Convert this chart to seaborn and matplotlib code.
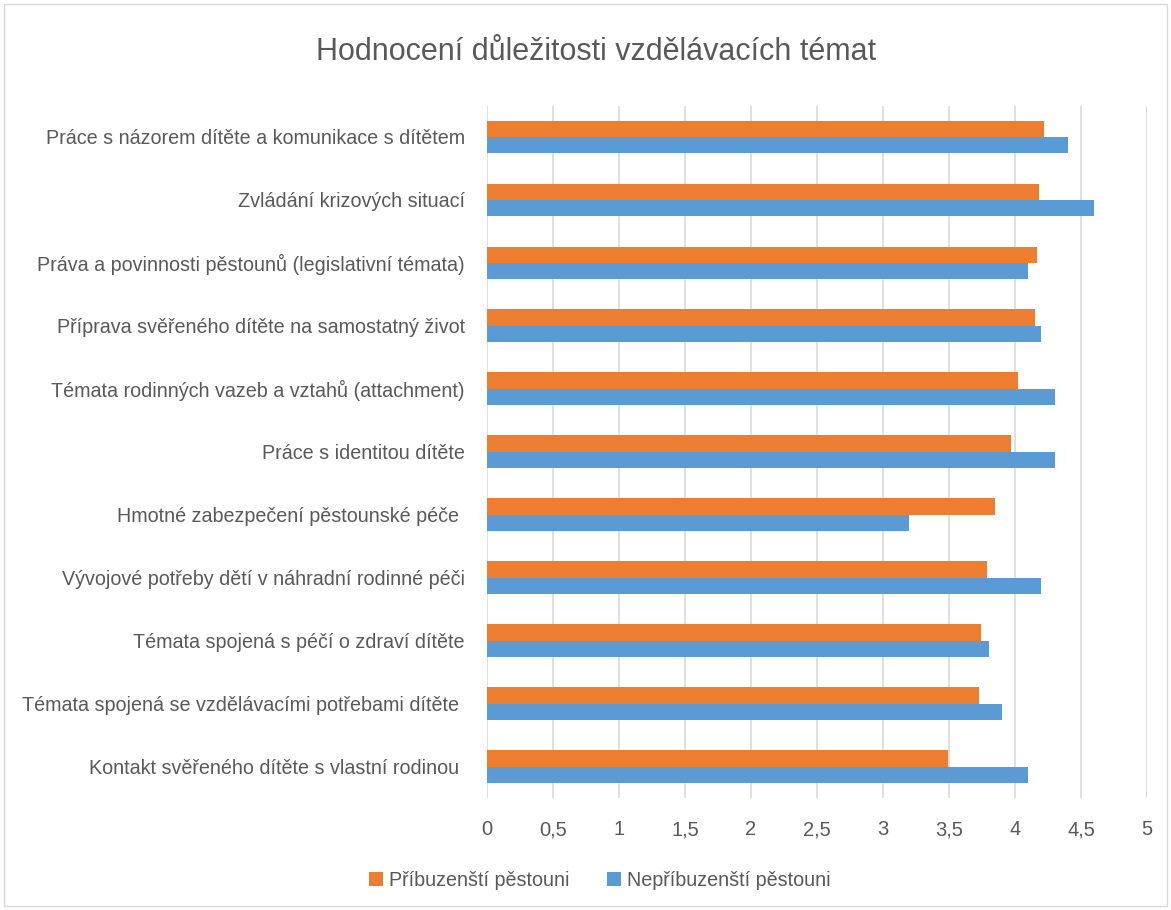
import matplotlib
matplotlib.use("Agg")
import matplotlib.pyplot as plt
import seaborn as sns
import pandas as pd
from matplotlib.patches import Rectangle
from matplotlib.ticker import FuncFormatter

categories = [
    "Práce s názorem dítěte a komunikace s dítětem",
    "Zvládání krizových situací",
    "Práva a povinnosti pěstounů (legislativní témata)",
    "Příprava svěřeného dítěte na samostatný život",
    "Témata rodinných vazeb a vztahů (attachment)",
    "Práce s identitou dítěte",
    "Hmotné zabezpečení pěstounské péče ",
    "Vývojové potřeby dětí v náhradní rodinné péči",
    "Témata spojená s péčí o zdraví dítěte",
    "Témata spojená se vzdělávacími potřebami dítěte ",
    "Kontakt svěřeného dítěte s vlastní rodinou ",
]
pribuzensti = [4.22, 4.18, 4.17, 4.15, 4.02, 3.97, 3.85, 3.79, 3.74, 3.73, 3.49]
nepribuzensti = [4.40, 4.60, 4.10, 4.20, 4.30, 4.30, 3.20, 4.20, 3.80, 3.90, 4.10]
series_names = ["Příbuzenští pěstouni", "Nepříbuzenští pěstouni"]
colors = ["#ED7D31", "#5B9BD5"]
x_ticks = [0, 0.5, 1, 1.5, 2, 2.5, 3, 3.5, 4, 4.5, 5]

df = pd.DataFrame({
    "cat": categories * 2,
    "val": pribuzensti + nepribuzensti,
    "series": [series_names[0]] * len(categories) + [series_names[1]] * len(categories),
})

sns.set_theme(style="white")
font = ["Liberation Sans Narrow", "Liberation Sans", "DejaVu Sans"]
plt.rcParams["font.family"] = font
txt = "#595959"

fig = plt.figure(figsize=(11.71, 9.10), dpi=100)
ax = fig.add_axes([487 / 1171, 1 - 798 / 910, (1147 - 487) / 1171, (798 - 105.5) / 910])

sns.barplot(data=df, y="cat", x="val", hue="series", order=categories,
            hue_order=series_names, palette=colors, orient="h",
            width=0.52, gap=0, ax=ax, legend=True, saturation=1,
            edgecolor="none", linewidth=0)

ax.set_xlim(0, 5)
ax.set_ylim(len(categories) - 0.5, -0.5)
ax.set_xticks(x_ticks)
ax.xaxis.set_major_formatter(FuncFormatter(lambda v, p: f"{v:g}".replace(".", ",")))
ax.grid(axis="x", color="#d9d9d9", linewidth=1.2)
ax.set_axisbelow(True)
for s in ax.spines.values():
    s.set_visible(False)
ax.tick_params(axis="both", length=0, colors=txt)
ax.tick_params(axis="y", pad=16, labelsize=14.2)
ax.tick_params(axis="x", pad=16, labelsize=14.5)
for lab in ax.get_yticklabels() + ax.get_xticklabels():
    lab.set_color(txt)
ax.set_xlabel("")
ax.set_ylabel("")

leg = ax.legend(loc="center", bbox_to_anchor=(600 / 1171, 1 - 880 / 910),
                bbox_transform=fig.transFigure, ncol=2, frameon=False,
                fontsize=14.2, handlelength=0.7, handleheight=0.7,
                handletextpad=0.3, columnspacing=1.9)
for t in leg.get_texts():
    t.set_color(txt)

fig.text(596 / 1171, 1 - 52 / 910, "Hodnocení důležitosti vzdělávacích témat",
         ha="center", va="center", fontsize=22, color=txt)

fig.patches.append(Rectangle((4 / 1171, 4 / 910), 1163 / 1171, 902 / 910,
                             transform=fig.transFigure, fill=False,
                             edgecolor="#d9d9d9", linewidth=1))

fig.savefig("out.png", dpi=100)
